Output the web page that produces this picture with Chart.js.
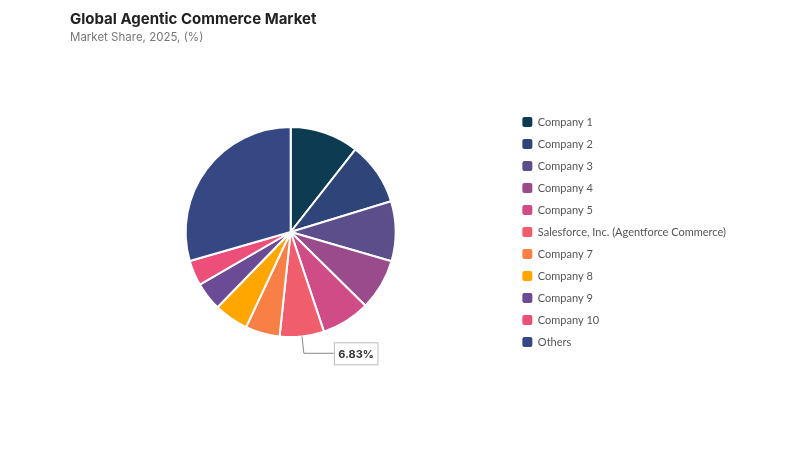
<!DOCTYPE html>
<html>
<head>
<meta charset="utf-8">
<script src="https://cdn.jsdelivr.net/npm/chart.js@4.4.1/dist/chart.umd.min.js"></script>
<style>
  html, body { margin:0; padding:0; background:#fff; }
  #wrap { position:relative; width:800px; height:450px; }
  #title { position:absolute; left:70px; top:9px; font-family:Inter, "Noto Sans", sans-serif; font-weight:700; font-size:15px; color:#222; }
  #subtitle { position:absolute; left:70px; top:30px; font-family:Inter, "Noto Sans", sans-serif; font-size:11.5px; color:#777; }
  canvas { position:absolute; left:0; top:0; }
</style>
</head>
<body>
<div id="wrap">
  <canvas id="c" width="800" height="450"></canvas>
  <div id="title">Global Agentic Commerce Market</div>
  <div id="subtitle">Market Share, 2025, (%)</div>
</div>
<script>
const labels = ["Company 1","Company 2","Company 3","Company 4","Company 5","Salesforce, Inc. (Agentforce Commerce)","Company 7","Company 8","Company 9","Company 10","Others"];
const shares = [10.6, 9.7, 9.25, 7.9, 7.5, 6.83, 5.3, 5.3, 4.4, 3.9, 29.5];
const colors = ["#0d3b52","#2f4579","#5b4e8a","#9a4b8c","#cf4c87","#f05e6e","#f88046","#ffa600","#6c4b96","#ec4f7a","#354884"];
const labelledIndex = 5;
const labelText = "6.83%";

const calloutPlugin = {
  id: 'callout',
  afterDatasetsDraw(chart) {
    const arc = chart.getDatasetMeta(0).data[labelledIndex];
    if (!arc) return;
    const ctx = chart.ctx;
    const mid = (arc.startAngle + arc.endAngle) / 2;
    const r = arc.outerRadius;
    const x0 = arc.x + Math.cos(mid) * r;
    const y0 = arc.y + Math.sin(mid) * r;
    const x1 = arc.x + Math.cos(mid) * (r + 17);
    const y1 = arc.y + Math.sin(mid) * (r + 17);
    const x2 = x1 + 30;
    ctx.save();
    ctx.strokeStyle = '#888';
    ctx.lineWidth = 1;
    ctx.beginPath();
    ctx.moveTo(x0, y0);
    ctx.lineTo(x1, y1);
    ctx.lineTo(x2, y1);
    ctx.stroke();
    ctx.font = 'bold 11px Inter, "Noto Sans", sans-serif';
    const tw = ctx.measureText(labelText).width;
    const bw = tw + 8, bh = 22;
    ctx.fillStyle = '#fff';
    ctx.fillRect(x2, y1 - bh/2, bw, bh);
    ctx.strokeStyle = '#bbb';
    ctx.strokeRect(x2 + 0.5, y1 - bh/2 + 0.5, bw, bh);
    ctx.fillStyle = '#333';
    ctx.textAlign = 'center';
    ctx.textBaseline = 'middle';
    ctx.fillText(labelText, x2 + bw/2 + 0.5, y1 + 1);
    ctx.restore();
  }
};

new Chart(document.getElementById('c'), {
  type: 'pie',
  data: {
    labels: labels,
    datasets: [{
      data: shares,
      backgroundColor: colors,
      borderColor: '#fff',
      borderWidth: 2,
      radius: 105
    }]
  },
  options: {
    responsive: false,
    animation: false,
    layout: { padding: { left: 70, right: 64, top: 60, bottom: 46 } },
    plugins: {
      tooltip: { enabled: false },
      legend: {
        position: 'right',
        labels: {
          font: { family: 'Lato, "Noto Sans", sans-serif', size: 11 },
          color: '#555',
          boxWidth: 10,
          boxHeight: 10,
          padding: 11,
          useBorderRadius: true,
          borderRadius: 2,
          generateLabels(chart) {
            const items = Chart.controllers.pie.overrides.plugins.legend.labels.generateLabels(chart);
            return items.map(it => Object.assign(it, { lineWidth: 0, strokeStyle: it.fillStyle }));
          }
        }
      }
    }
  },
  plugins: [calloutPlugin]
});
</script>
</body>
</html>
